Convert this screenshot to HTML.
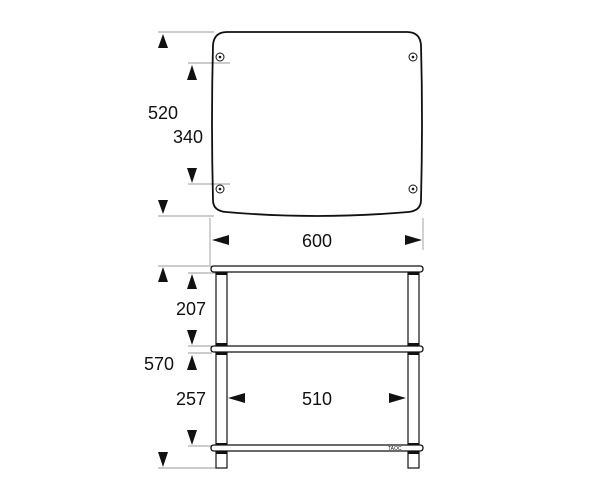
<!DOCTYPE html>
<html><head><meta charset="utf-8"><style>
html,body{margin:0;padding:0;background:#fff;width:600px;height:500px;overflow:hidden}
text{font-family:"Liberation Sans",Arial,sans-serif;font-size:18px;fill:#111}
</style></head><body>
<svg width="600" height="500" viewBox="0 0 600 500" xmlns="http://www.w3.org/2000/svg">
<g stroke="#999" stroke-width="0.9" fill="none">
<line x1="158" y1="32" x2="214" y2="32"/>
<line x1="158" y1="216" x2="214" y2="216"/>
<line x1="188" y1="63" x2="230" y2="63"/>
<line x1="188" y1="184" x2="230" y2="184"/>
<line x1="210" y1="218" x2="210" y2="265"/>
<line x1="423" y1="218" x2="423" y2="250"/>
<line x1="158" y1="266" x2="212" y2="266"/>
<line x1="188" y1="273" x2="216" y2="273"/>
<line x1="188" y1="346" x2="212" y2="346"/>
<line x1="188" y1="353" x2="212" y2="353"/>
<line x1="188" y1="446" x2="216" y2="446"/>
<line x1="158" y1="468" x2="216" y2="468"/>
</g>
<g fill="#111">
<polygon points="163,34 158,48 168,48"/>
<polygon points="163,214 158,200 168,200"/>
<polygon points="192,65 187,80 197,80"/>
<polygon points="192,183 187,168 197,168"/>
<polygon points="212,240 229,235 229,245"/>
<polygon points="422,240 405,235 405,245"/>
<polygon points="163,267 158,282 168,282"/>
<polygon points="163,467 158,452 168,452"/>
<polygon points="192,274 187,289 197,289"/>
<polygon points="192,345 187,330 197,330"/>
<polygon points="192,355 187,370 197,370"/>
<polygon points="192,445 187,430 197,430"/>
<polygon points="228,398 245,393 245,403"/>
<polygon points="406,398 389,393 389,403"/>
</g>
<path d="M227 32 H407 Q420 32 421 45 Q423 120 421 200 Q421 211 408 212 Q317 220 226 212 Q213 211 213 200 Q211 120 213 45 Q214 32 227 32 Z" fill="none" stroke="#111" stroke-width="1.8"/>
<g fill="#fff" stroke="#111" stroke-width="1">
<circle cx="220" cy="57" r="4"/><circle cx="413" cy="57" r="4"/>
<circle cx="220" cy="189" r="4"/><circle cx="413" cy="189" r="4"/>
</g>
<g fill="#111">
<circle cx="220" cy="57" r="1.3"/><circle cx="413" cy="57" r="1.3"/>
<circle cx="220" cy="189" r="1.3"/><circle cx="413" cy="189" r="1.3"/>
</g>
<g fill="#fff" stroke="#111" stroke-width="1.2">
<rect x="216" y="272" width="11" height="74"/>
<rect x="408" y="272" width="11" height="74"/>
<rect x="216" y="352" width="11" height="94"/>
<rect x="408" y="352" width="11" height="94"/>
<rect x="216" y="451" width="11" height="17"/>
<rect x="408" y="451" width="11" height="17"/>
</g>
<g fill="#111">
<rect x="216" y="272" width="11" height="3"/><rect x="408" y="272" width="11" height="3"/>
<rect x="216" y="343" width="11" height="3"/><rect x="408" y="343" width="11" height="3"/>
<rect x="216" y="352" width="11" height="3"/><rect x="408" y="352" width="11" height="3"/>
<rect x="216" y="443" width="11" height="3"/><rect x="408" y="443" width="11" height="3"/>
<rect x="216" y="451" width="11" height="3"/><rect x="408" y="451" width="11" height="3"/>
</g>
<g fill="#fff" stroke="#111" stroke-width="1.3">
<path d="M214 266 H420 Q423 266 423 269 Q423 272 420 272 H214 Q211 272 211 269 Q211 266 214 266 Z"/>
<path d="M214 346 H420 Q423 346 423 349 Q423 352 420 352 H214 Q211 352 211 349 Q211 346 214 346 Z"/>
<path d="M214 445 H420 Q423 445 423 448 Q423 451 420 451 H214 Q211 451 211 448 Q211 445 214 445 Z"/>
</g>
<text x="148" y="119">520</text>
<text x="173" y="143">340</text>
<text x="317" y="247" text-anchor="middle">600</text>
<text x="176" y="315">207</text>
<text x="144" y="370">570</text>
<text x="176" y="405">257</text>
<text x="317" y="405" text-anchor="middle">510</text>
<text x="388" y="450" style="font-size:5px">TAOC</text>
</svg>
</body></html>
